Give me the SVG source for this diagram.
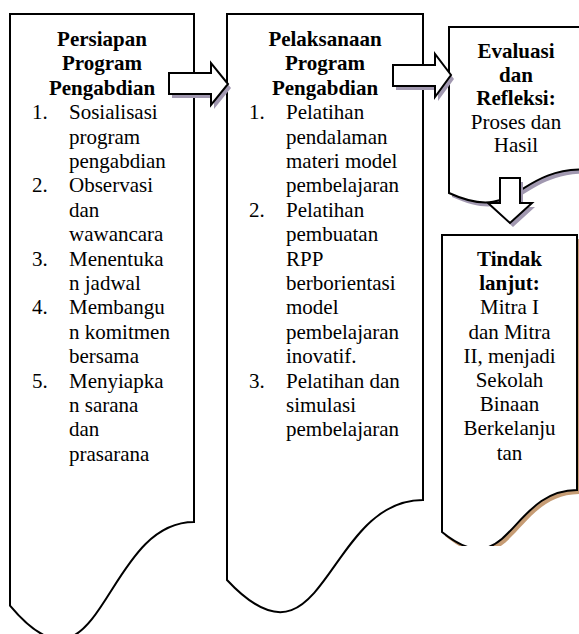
<svg xmlns="http://www.w3.org/2000/svg" width="579" height="634" viewBox="0 0 579 634">
<style>
.box{fill:#fff;stroke:#000;stroke-width:2;stroke-linejoin:miter}
.arrow{fill:#fff;stroke:#000;stroke-width:2;stroke-linejoin:miter}
.shadow{fill:#a198b0;stroke:none}
.bshadow{fill:#c69c74;stroke:none}
text{font-family:"Liberation Serif","Times New Roman",serif;font-size:21px;fill:#000}
.t{font-weight:bold;text-anchor:middle}
.c{text-anchor:middle}
</style>
<defs>
<clipPath id="clip4"><rect x="430" y="220" width="160" height="326"/></clipPath>
</defs>
<rect width="579" height="634" fill="#fff"/>
<g id="node-persiapan">
<path class="box" d="M10,14 H194 V522 C102,522 102,715.6 10,605.6 Z"/>
<text class="t" x="102" y="46">Persiapan</text>
<text class="t" x="102" y="70.4">Program</text>
<text class="t" x="102" y="94.8">Pengabdian</text>
<text x="32" y="119.2">1.</text><text x="69" y="119.2">Sosialisasi</text>
<text x="69" y="143.6">program</text>
<text x="69" y="168">pengabdian</text>
<text x="32" y="192.4">2.</text><text x="69" y="192.4">Observasi</text>
<text x="69" y="216.8">dan</text>
<text x="69" y="241.2">wawancara</text>
<text x="32" y="265.6">3.</text><text x="69" y="265.6">Menentuka</text>
<text x="69" y="290">n jadwal</text>
<text x="32" y="314.4">4.</text><text x="69" y="314.4">Membangu</text>
<text x="69" y="338.8">n komitmen</text>
<text x="69" y="363.2">bersama</text>
<text x="32" y="387.6">5.</text><text x="69" y="387.6">Menyiapka</text>
<text x="69" y="412">n sarana</text>
<text x="69" y="436.4">dan</text>
<text x="69" y="460.8">prasarana</text>
</g>
<g id="node-pelaksanaan">
<path class="box" d="M227,14 H423 V500 C325,500 325,685 227,580 Z"/>
<text class="t" x="325" y="46">Pelaksanaan</text>
<text class="t" x="325" y="70.4">Program</text>
<text class="t" x="325" y="94.8">Pengabdian</text>
<text x="249" y="119.2">1.</text><text x="286" y="119.2">Pelatihan</text>
<text x="286" y="143.6">pendalaman</text>
<text x="286" y="168">materi model</text>
<text x="286" y="192.4">pembelajaran</text>
<text x="249" y="216.8">2.</text><text x="286" y="216.8">Pelatihan</text>
<text x="286" y="241.2">pembuatan</text>
<text x="286" y="265.6">RPP</text>
<text x="286" y="290">berborientasi</text>
<text x="286" y="314.4">model</text>
<text x="286" y="338.8">pembelajaran</text>
<text x="286" y="363.2">inovatif.</text>
<text x="249" y="387.6">3.</text><text x="286" y="387.6">Pelatihan dan</text>
<text x="286" y="412">simulasi</text>
<text x="286" y="436.4">pembelajaran</text>
</g>
<g id="node-evaluasi">
<path class="shadow" transform="translate(3,4)" d="M449,27 H583 V169.5 C516,169.5 516,223.8 449,193 Z"/>
<path class="box" d="M449,27 H583 V169.5 C516,169.5 516,223.8 449,193 Z"/>
<text class="t" x="516" y="58">Evaluasi</text>
<text class="t" x="516" y="81.6">dan</text>
<text class="t" x="516" y="105.2">Refleksi:</text>
<text class="c" x="516" y="128.8">Proses dan</text>
<text class="c" x="516" y="152.4">Hasil</text>
</g>
<g id="node-tindak">
<g clip-path="url(#clip4)">
<path class="bshadow" transform="translate(3,4)" d="M442,235 H577 V490 C509.5,490 509.5,587 442,532 Z"/>
<path class="box" d="M442,235 H577 V490 C509.5,490 509.5,587 442,532 Z"/>
</g>
<text class="t" x="509.5" y="266">Tindak</text>
<text class="t" x="509.5" y="290.2">lanjut:</text>
<text class="c" x="509.5" y="314.4">Mitra I</text>
<text class="c" x="509.5" y="338.6">dan Mitra</text>
<text class="c" x="509.5" y="362.8">II, menjadi</text>
<text class="c" x="509.5" y="387">Sekolah</text>
<text class="c" x="509.5" y="411.2">Binaan</text>
<text class="c" x="509.5" y="435.4">Berkelanju</text>
<text class="c" x="509.5" y="459.6">tan</text>
</g>
<g id="connectors">
<polygon class="shadow" transform="translate(3,4)" points="169,73 211,73 211,63 228,84 211,105 211,94 169,94"/>
<polygon class="arrow" points="169,73 211,73 211,63 228,84 211,105 211,94 169,94"/>
<polygon class="shadow" transform="translate(3,4)" points="393,65 435,65 435,54 451,75 435,97 435,86 393,86"/>
<polygon class="arrow" points="393,65 435,65 435,54 451,75 435,97 435,86 393,86"/>
<polygon class="shadow" transform="translate(3,4)" points="500,178 520,178 520,203 532,203 510,223 488,203 500,203"/>
<polygon class="arrow" points="500,178 520,178 520,203 532,203 510,223 488,203 500,203"/>
</g>
</svg>
